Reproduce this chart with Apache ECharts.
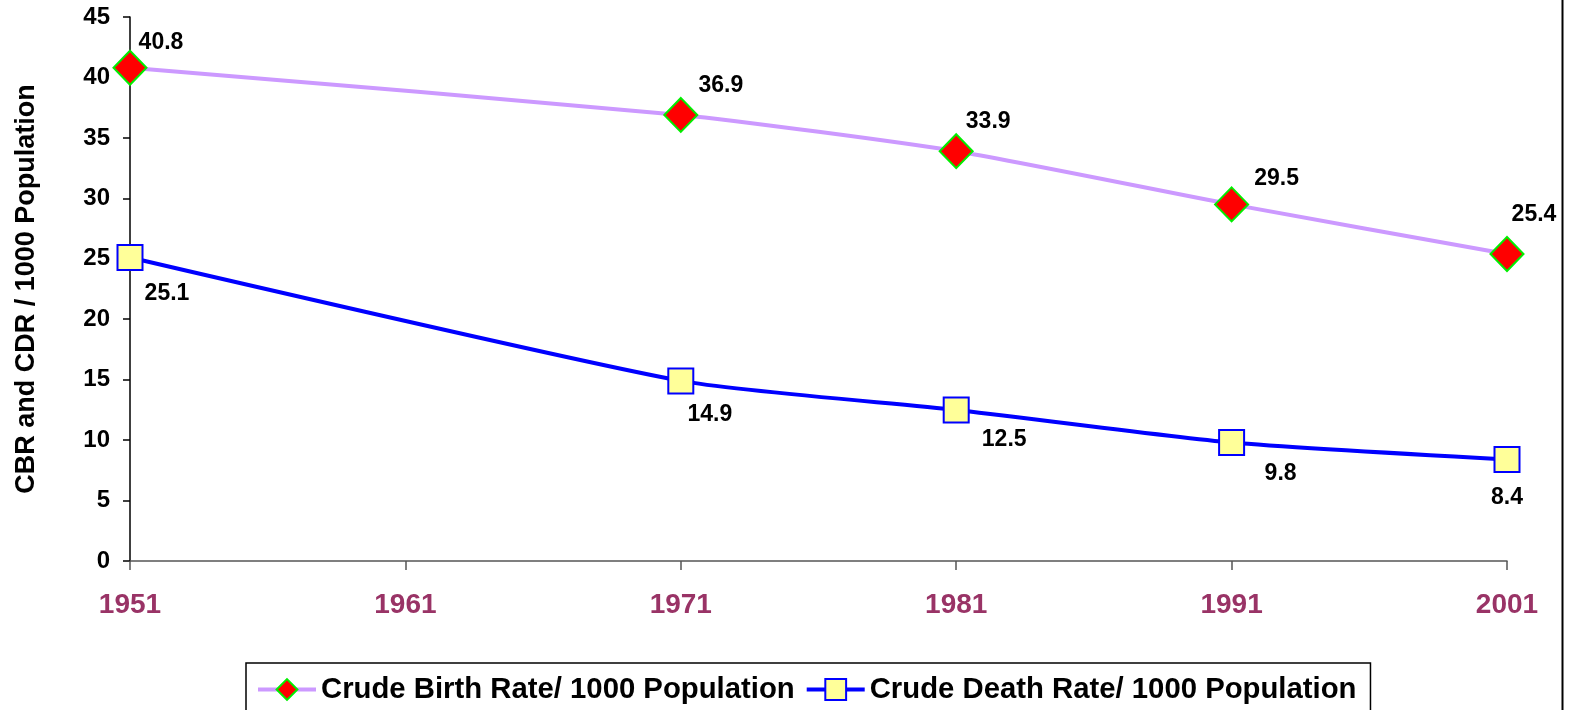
<!DOCTYPE html>
<html>
<head>
<meta charset="utf-8">
<script src="https://cdn.jsdelivr.net/npm/echarts@6/dist/echarts.min.js"></script>
<style>
html,body{margin:0;padding:0;background:#fff;}
#chart{width:1578px;height:710px;}
</style>
</head>
<body>
<div id="chart"></div>
<script>
const years = ['1951', '1961', '1971', '1981', '1991', '2001'];
const birthRate = [40.8, null, 36.9, 33.9, 29.5, 25.4];
const deathRate = [25.1, null, 14.9, 12.5, 9.8, 8.4];
const yTicks = { min: 0, max: 45, interval: 5 };
const birthName = 'Crude Birth Rate/ 1000 Population';
const deathName = 'Crude Death Rate/ 1000 Population';
const yAxisName = 'CBR and CDR / 1000 Population';

const FONT = '"Liberation Sans", Arial, sans-serif';
const birthLabelOffsets = [[31, -25], [0, 0], [40, -29], [32, -30], [45, -26], [27, -39]];
const deathLabelOffsets = [[37, 36], [0, 0], [29, 34], [48, 30], [49, 31], [0, 38]];

function withLabels(values, offsets) {
  return values.map((v, i) => ({
    value: v,
    label: { offset: offsets[i] }
  }));
}

const chart = echarts.init(document.getElementById('chart'));
chart.setOption({
  animation: false,
  backgroundColor: '#ffffff',
  grid: { left: 130, right: 71, top: 17, bottom: 149 },
  xAxis: {
    type: 'category',
    data: years,
    boundaryGap: false,
    axisLine: { lineStyle: { color: '#555', width: 1.5 } },
    axisTick: { show: true, length: 9, inside: false, lineStyle: { color: '#555', width: 1.5 } },
    axisLabel: { color: '#993366', fontWeight: 'bold', fontSize: 28, fontFamily: FONT, margin: 30 },
    splitLine: { show: false }
  },
  yAxis: {
    type: 'value',
    min: yTicks.min, max: yTicks.max, interval: yTicks.interval,
    name: yAxisName,
    nameLocation: 'middle',
    nameGap: 90,
    nameTextStyle: { color: '#000', fontWeight: 'bold', fontSize: 27, fontFamily: FONT },
    axisLine: { show: true, lineStyle: { color: '#000', width: 1.5 } },
    axisTick: { show: true, length: 7, inside: false, lineStyle: { color: '#000', width: 1.5 } },
    axisLabel: { color: '#000', fontWeight: 'bold', fontSize: 24, fontFamily: FONT, margin: 20 },
    splitLine: { show: false }
  },
  legend: {
    left: 246, top: 663,
    itemWidth: 58, itemHeight: 26, itemGap: 10,
    padding: [12, 14, 14, 10],
    borderColor: '#000', borderWidth: 1.5,
    lineStyle: { width: 4 },
    textStyle: { color: '#000', fontWeight: 'bold', fontSize: 29.3, fontFamily: FONT },
    data: [birthName, deathName]
  },
  graphic: [{
    type: 'line',
    shape: { x1: 1562.5, y1: 0, x2: 1562.5, y2: 710 },
    style: { stroke: '#000', lineWidth: 2 }
  }],
  series: [
    {
      name: birthName,
      type: 'line',
      data: withLabels(birthRate, birthLabelOffsets),
      connectNulls: true,
      smooth: 0.2,
      symbol: 'diamond',
      symbolSize: [33, 34],
      lineStyle: { color: '#cc99ff', width: 4 },
      itemStyle: { color: '#ff0000', borderColor: '#00ee00', borderWidth: 2 },
      label: { show: true, position: 'inside', color: '#000', fontWeight: 'bold', fontSize: 23, fontFamily: FONT }
    },
    {
      name: deathName,
      type: 'line',
      data: withLabels(deathRate, deathLabelOffsets),
      connectNulls: true,
      smooth: 0.2,
      symbol: 'rect',
      symbolSize: 25,
      lineStyle: { color: '#0000ff', width: 4 },
      itemStyle: { color: '#ffff99', borderColor: '#0000ff', borderWidth: 2 },
      label: { show: true, position: 'inside', color: '#000', fontWeight: 'bold', fontSize: 23, fontFamily: FONT }
    }
  ]
});
</script>
</body>
</html>
